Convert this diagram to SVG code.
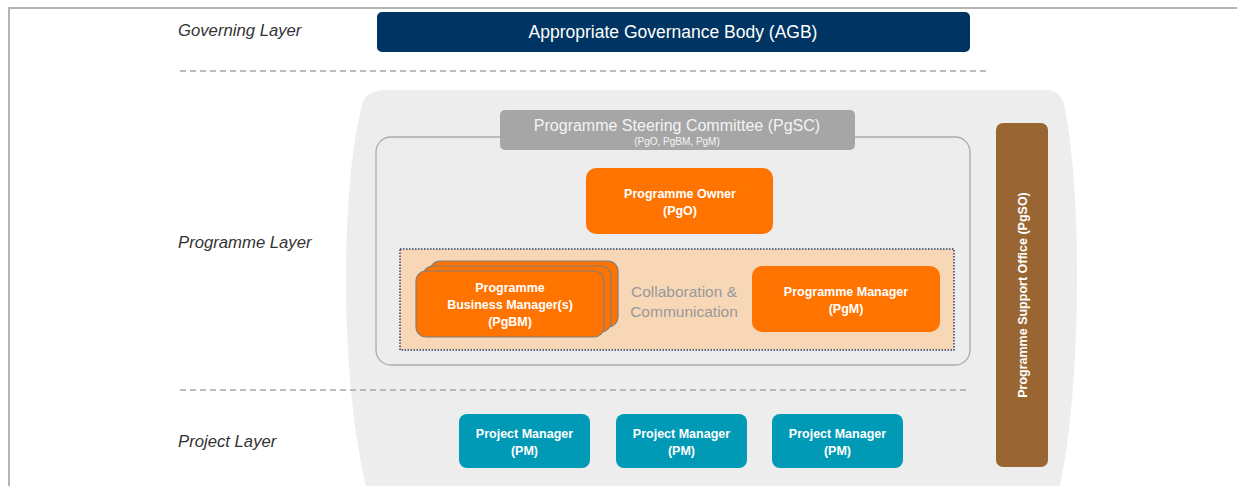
<svg xmlns="http://www.w3.org/2000/svg" width="1237" height="486" viewBox="0 0 1237 486">
<style>
.layer{font-family:"Liberation Sans",Arial,sans-serif;font-style:italic;font-size:16.7px;fill:#333}
.wb{font-family:"Liberation Sans",Arial,sans-serif;font-weight:bold;font-size:12.5px;fill:#fff;text-anchor:middle}
.org{fill:#ff7300}
.pm{fill:#0099b6}
.dash{stroke:#a6a6a6;stroke-width:1.5;stroke-dasharray:6 4;fill:none}
</style>
<rect width="1237" height="486" fill="#fff"/>
<path d="M9 486 L9 8 L1237 8" fill="none" stroke="#b4b4b4" stroke-width="2"/>
<g id="background">
<path d="M385 90 L1046 90 Q1060 90 1064 104 C1082 190 1082 380 1060 486 L366 486 C340 380 340 190 362 105 Q366 90 385 90 Z" fill="#ededed"/>
</g>
<g id="layers">
<text class="layer" x="178" y="36">Governing Layer</text>
<text class="layer" x="178" y="248">Programme  Layer</text>
<text class="layer" x="178" y="447">Project Layer</text>
</g>
<g id="separators">
<line class="dash" x1="180" y1="71" x2="987" y2="71"/>
<line class="dash" x1="180" y1="390" x2="970" y2="390"/>
</g>
<g id="agb">
<rect x="377" y="12" width="593" height="40" rx="5" fill="#003462"/>
<text x="673" y="38" font-family="Liberation Sans,Arial,sans-serif" font-size="17.5" fill="#fff" text-anchor="middle">Appropriate Governance Body (AGB)</text>
</g>
<g id="programme-frame">
<rect x="376" y="137" width="594" height="228" rx="15" fill="#ededed" stroke="#aaaaaa" stroke-width="1.3"/>
</g>
<g id="pgsc">
<rect x="500" y="110" width="355" height="40" rx="5" fill="#a6a6a6"/>
<text x="677" y="131" font-family="Liberation Sans,Arial,sans-serif" font-size="16" fill="#f4f4f4" text-anchor="middle">Programme Steering Committee (PgSC)</text>
<text x="677" y="145" font-family="Liberation Sans,Arial,sans-serif" font-size="10" fill="#f4f4f4" text-anchor="middle">(PgO, PgBM, PgM)</text>
</g>
<g id="pgo">
<rect class="org" x="586" y="168" width="187" height="66" rx="10"/>
<text class="wb" x="680" y="198">Programme Owner</text>
<text class="wb" x="680" y="215">(PgO)</text>
</g>
<g id="collab-area">
<rect x="400" y="249" width="554" height="101" fill="#f8d7b7" stroke="#2f3f6f" stroke-width="1.5" stroke-dasharray="1.5 1.5"/>
<text x="684" y="297" font-family="Liberation Sans,Arial,sans-serif" font-size="15.5" fill="#999" text-anchor="middle">Collaboration &amp;</text>
<text x="684" y="317" font-family="Liberation Sans,Arial,sans-serif" font-size="15.5" fill="#999" text-anchor="middle">Communication</text>
</g>
<g id="pgbm">
<rect class="org" x="430" y="261" width="188" height="66" rx="10" stroke="#7f7f7f" stroke-width="1.2"/>
<rect class="org" x="423" y="266" width="188" height="66" rx="10" stroke="#7f7f7f" stroke-width="1.2"/>
<rect class="org" x="416" y="271" width="188" height="66" rx="10" stroke="#7f7f7f" stroke-width="1.2"/>
<text class="wb" x="510" y="292">Programme</text>
<text class="wb" x="510" y="309">Business Manager(s)</text>
<text class="wb" x="510" y="326">(PgBM)</text>
</g>
<g id="pgm">
<rect class="org" x="752" y="266" width="188" height="66" rx="10"/>
<text class="wb" x="846" y="296">Programme Manager</text>
<text class="wb" x="846" y="313">(PgM)</text>
</g>
<g id="pgso">
<rect x="996" y="123" width="52" height="344" rx="7" fill="#996633"/>
<text class="wb" transform="translate(1027 295) rotate(-90)" x="0" y="0">Programme Support Office (PgSO)</text>
</g>
<g id="pm1">
<rect class="pm" x="459" y="414" width="131" height="54" rx="8"/>
<text class="wb" x="524.5" y="438">Project Manager</text>
<text class="wb" x="524.5" y="455">(PM)</text>
</g>
<g id="pm2">
<rect class="pm" x="616" y="414" width="131" height="54" rx="8"/>
<text class="wb" x="681.5" y="438">Project Manager</text>
<text class="wb" x="681.5" y="455">(PM)</text>
</g>
<g id="pm3">
<rect class="pm" x="772" y="414" width="131" height="54" rx="8"/>
<text class="wb" x="837.5" y="438">Project Manager</text>
<text class="wb" x="837.5" y="455">(PM)</text>
</g>
<g id="connectors"></g>
</svg>
